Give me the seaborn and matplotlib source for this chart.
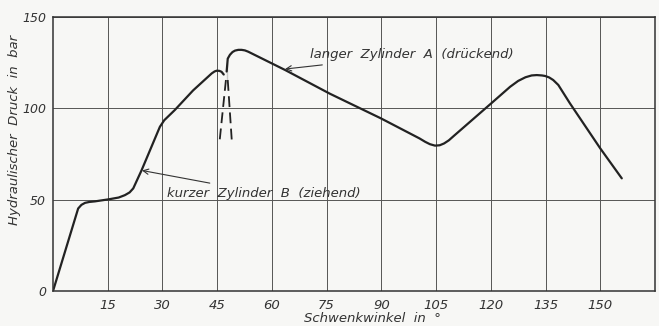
import numpy as np
import pandas as pd
import matplotlib.pyplot as plt
import seaborn as sns

# Schwenkwinkel (deg) and hydraulic pressure (bar)
angle_b = [0, 6.9, 7.8, 8.8, 10.0, 11.5, 15.2, 18.0, 19.7, 21.0, 22.0, 24.3, 29.3,
           30.5, 33.4, 38.4, 43.5, 44.3, 44.9, 45.6, 46.2, 46.8]
druck_b = [0, 45.2, 47.2, 48.3, 48.8, 49.1, 50.2, 51.2, 52.5, 54.0, 56.2, 66.2, 89.9,
           93.5, 99.1, 109.8, 119.1, 120.2, 120.6, 120.5, 120.0, 118.5]

angle_a = [47.6, 47.6, 47.9, 48.5, 49.2, 49.9, 50.8, 51.7, 52.6, 53.5, 63.6, 75.9, 89.9,
           100.5, 102.0, 103.3, 104.7, 106.0, 107.2, 108.5, 109.8, 120.1, 125.3, 127.5,
           129.5, 131.2, 132.6, 134.0, 134.9, 136.0, 137.1, 138.5, 141.7, 150.0, 155.9]
druck_a = [115.5, 124.8, 127.2, 129.3, 130.8, 131.6, 132.0, 132.0, 131.7, 131.0, 121.0, 108.0,
           94.5, 83.5, 81.7, 80.4, 79.6, 79.8, 80.8, 82.5, 84.8, 102.7, 111.8, 115.0,
           117.0, 118.0, 118.2, 118.0, 117.7, 116.9, 115.5, 112.8, 102.7, 78.1, 61.7]

# dashed transition between the two cylinders
dash_left_x = [47.4, 45.6]
dash_left_y = [115.5, 80.8]
dash_right_x = [47.9, 49.0]
dash_right_y = [115.5, 82.6]

x_ticks = [15, 30, 45, 60, 75, 90, 105, 120, 135, 150]
y_ticks = [0, 50, 100, 150]

sns.set_style("white")
plt.rcParams['font.family'] = ['DejaVu Sans']
plt.rcParams['font.style'] = 'italic'

ink = '#222222'
txt = '#333333'
fig = plt.figure(figsize=(6.59, 3.26), dpi=100, facecolor='#f7f7f5')
ax = fig.add_axes([0.0804, 0.107, 0.9135, 0.841])
ax.set_facecolor('#f7f7f5')

df_b = pd.DataFrame({'winkel': angle_b, 'druck': druck_b})
df_a = pd.DataFrame({'winkel': angle_a, 'druck': druck_a})
sns.lineplot(data=df_b, x='winkel', y='druck', ax=ax, color=ink, lw=1.6, sort=False)
sns.lineplot(data=df_a, x='winkel', y='druck', ax=ax, color=ink, lw=1.6, sort=False)
ax.plot(dash_left_x, dash_left_y, color=ink, lw=1.3, ls=(0, (6, 3)))
ax.plot(dash_right_x, dash_right_y, color=ink, lw=1.3, ls=(0, (6, 3)))

ax.set_xlim(0, 165)
ax.set_ylim(0, 150)
ax.set_xticks(x_ticks)
ax.set_yticks(y_ticks)
ax.set_xticklabels([str(t) for t in x_ticks], fontsize=9.5, color=txt)
ax.set_yticklabels([str(t) for t in y_ticks], fontsize=9, color=txt)
ax.tick_params(axis='x', length=0, pad=6)
ax.tick_params(axis='y', length=3, width=0.8, color='#555555', pad=2)
ax.grid(True, color='#555555', lw=0.7)
for s in ax.spines.values():
    s.set_color('#333333')
    s.set_linewidth(1.1)
ax.set_xlabel('')
ax.set_ylabel('')

fig.text(372 / 659, 1 - 318 / 326, 'Schwenkwinkel  in  °', fontsize=9.5, color=txt,
         ha='center', va='center')
fig.text(15 / 659, 1 - 130 / 326, 'Hydraulischer  Druck  in  bar', fontsize=9.5, color=txt,
         ha='center', va='center', rotation=90)

ax.annotate('langer  Zylinder  A  (drückend)', xy=(63.6, 121.5), xytext=(70.4, 129.2),
            fontsize=9.5, color=txt, va='center', ha='left',
            arrowprops=dict(arrowstyle='->', color=txt, lw=0.8, shrinkA=1, shrinkB=0))
ax.annotate('kurzer  Zylinder  B  (ziehend)', xy=(24.4, 66.0), xytext=(31.2, 53.6),
            fontsize=9.5, color=txt, va='center', ha='left',
            arrowprops=dict(arrowstyle='->', color=txt, lw=0.8, shrinkA=1, shrinkB=0))

fig.savefig('out.png', dpi=100, facecolor=fig.get_facecolor())
